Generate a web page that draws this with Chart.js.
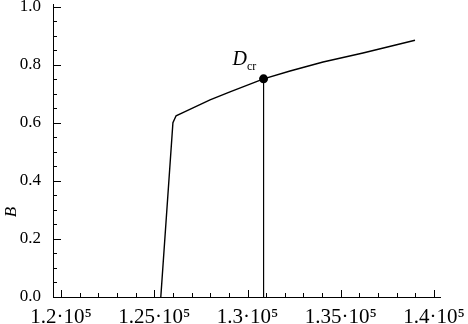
<!DOCTYPE html>
<html>
<head>
<meta charset="utf-8">
<script src="https://cdn.jsdelivr.net/npm/chart.js@4.4.1/dist/chart.umd.min.js"></script>
<style>
  html, body { margin: 0; padding: 0; background: #fff; }
  #wrap { width: 468px; height: 324px; }
</style>
</head>
<body>
<div id="wrap"><canvas id="chart" width="468" height="324"></canvas></div>
<script>
// curve
var curveX = [125350, 126000, 126170, 126650, 127990, 129060, 130860, 132280, 134050, 136190, 138980];
var curveB = [0.0, 0.600, 0.624, 0.638, 0.679, 0.706, 0.751, 0.778, 0.809, 0.840, 0.884];

// critical point D_cr
var crX = 130860;
var crB = 0.751;
var crLabel = "D";
var crSub = "cr";

// labelled ticks; minor ticks every 1000 / 0.05
var xMajor = [120000, 125000, 130000, 135000, 140000];
var yMajor = [0.0, 0.2, 0.4, 0.6, 0.8, 1.0];
var xMinorStep = 1000;
var yMinorStep = 0.05;
var yTitle = "B";

var serif = "'Liberation Serif', 'DejaVu Serif', serif";

function isMajorX(v) {
    return xMajor.some(function(m) { return Math.abs(m - v) < 1e-3; });
}
function isMajorY(v) {
    return yMajor.some(function(m) { return Math.abs(m - v) < 1e-6; });
}
function stepTicks(from, to, step) {
    var out = [];
    var n = Math.round((to - from) / step);
    for (var i = 0; i <= n; i++) out.push({ value: from + i * step });
    return out;
}

/* inward tick marks + annotations */
var decor = {
    id: "decor",
    afterDraw: function(chart) {
        var ctx = chart.ctx;
        var xs = chart.scales.x, ys = chart.scales.y;
        var area = chart.chartArea;
        ctx.save();
        ctx.strokeStyle = "#000";
        ctx.lineWidth = 1;
        ctx.beginPath();
        xs.ticks.forEach(function(t) {
            var px = Math.round(xs.getPixelForValue(t.value)) + 0.5;
            var len = isMajorX(t.value) ? 7 : 4;
            ctx.moveTo(px, area.bottom);
            ctx.lineTo(px, area.bottom - len);
        });
        ys.ticks.forEach(function(t) {
            var py = Math.round(ys.getPixelForValue(t.value)) + 0.5;
            var len = isMajorY(t.value) ? 8 : 4;
            ctx.moveTo(area.left, py);
            ctx.lineTo(area.left + len, py);
        });
        ctx.stroke();

        // D_cr label
        var px = xs.getPixelForValue(crX), py = ys.getPixelForValue(crB);
        ctx.fillStyle = "#000";
        ctx.textBaseline = "alphabetic";
        ctx.textAlign = "left";
        ctx.font = "italic 20px " + serif;
        ctx.fillText(crLabel, px - 31, py - 14);
        var w = ctx.measureText(crLabel).width;
        ctx.font = "12px " + serif;
        ctx.fillText(crSub, px - 31 + w, py - 9);

        // y title
        ctx.font = "italic 17px " + serif;
        ctx.translate(16, 212);
        ctx.rotate(-Math.PI / 2);
        ctx.textAlign = "center";
        ctx.fillText(yTitle, 0, 0);
        ctx.restore();
    }
};

var curve = curveX.map(function(x, i) { return { x: x, y: curveB[i] }; });
var drop = [{ x: crX, y: crB }, { x: crX, y: 0 }];

new Chart(document.getElementById("chart").getContext("2d"), {
    type: "line",
    data: {
        datasets: [
            {
                data: curve,
                borderColor: "#000",
                borderWidth: 1.4,
                pointRadius: 0,
                tension: 0
            },
            {
                data: drop,
                borderColor: "#000",
                backgroundColor: "#000",
                borderWidth: 1,
                pointRadius: [4.5, 0],
                pointBorderWidth: 0,
                tension: 0
            }
        ]
    },
    options: {
        responsive: false,
        animation: false,
        layout: { padding: { left: 0, right: 28, top: 2, bottom: 0 } },
        plugins: {
            legend: { display: false },
            tooltip: { enabled: false }
        },
        scales: {
            x: {
                type: "linear",
                min: 119570,
                max: 140320,
                grid: { display: false },
                border: { display: true, color: "#000", width: 1 },
                afterBuildTicks: function(s) {
                    s.ticks = stepTicks(xMajor[0], xMajor[xMajor.length - 1], xMinorStep);
                },
                ticks: {
                    autoSkip: false,
                    maxRotation: 0,
                    padding: 0,
                    color: "#000",
                    font: { family: serif, size: 21 },
                    callback: function(v) {
                        return isMajorX(v) ? (Math.round(v) / 1e5) + "·10⁵" : "";
                    }
                },
                afterFit: function(s) {
                    s.height = 27;
                    s.paddingLeft = 0;
                    s.paddingRight = 0;
                }
            },
            y: {
                min: 0,
                max: 1.007,
                grid: { display: false },
                border: { display: true, color: "#000", width: 1 },
                afterBuildTicks: function(s) {
                    s.ticks = stepTicks(yMajor[0], yMajor[yMajor.length - 1], yMinorStep);
                },
                ticks: {
                    autoSkip: false,
                    padding: 4,
                    color: "#000",
                    font: { family: serif, size: 17 },
                    callback: function(v) {
                        return isMajorY(v) ? v.toFixed(1) : "";
                    }
                },
                afterFit: function(s) {
                    s.width = 53;
                    s.paddingTop = 0;
                    s.paddingBottom = 0;
                }
            }
        }
    },
    plugins: [decor]
});
</script>
</body>
</html>
